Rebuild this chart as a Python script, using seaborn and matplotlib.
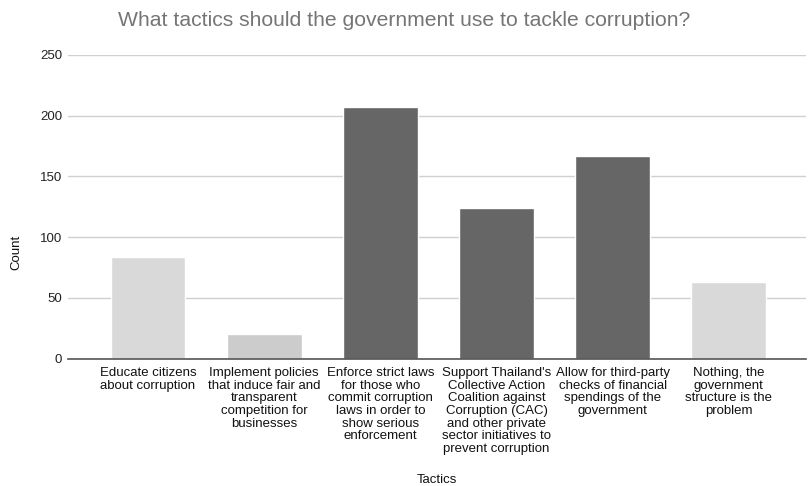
import matplotlib
matplotlib.use("Agg")
import matplotlib.pyplot as plt
import seaborn as sns
import pandas as pd

tactics = [
    "Educate citizens\nabout corruption",
    "Implement policies\nthat induce fair and\ntransparent\ncompetition for\nbusinesses",
    "Enforce strict laws\nfor those who\ncommit corruption\nlaws in order to\nshow serious\nenforcement",
    "Support Thailand's\nCollective Action\nCoalition against\nCorruption (CAC)\nand other private\nsector initiatives to\nprevent corruption",
    "Allow for third-party\nchecks of financial\nspendings of the\ngovernment",
    "Nothing, the\ngovernment\nstructure is the\nproblem",
]
counts = [84, 20, 207, 124, 167, 63]
bar_colors = ["#d9d9d9", "#cccccc", "#666666", "#666666", "#666666", "#d9d9d9"]
y_ticks = [0, 50, 100, 150, 200, 250]

sns.set_theme(style="white")
plt.rcParams["font.family"] = ["Liberation Sans", "DejaVu Sans"]

df = pd.DataFrame({"Tactics": tactics, "Count": counts})

fig = plt.figure(figsize=(8.08, 4.86), dpi=100)
ax = fig.add_axes([0.084, 0.262, 0.913, 0.625])

sns.barplot(data=df, x="Tactics", y="Count", hue="Tactics", palette=bar_colors,
            legend=False, width=0.645, saturation=1, ax=ax, zorder=3)

ax.set_ylim(0, 250)
ax.set_xlim(-0.69, 5.66)
ax.set_yticks(y_ticks)
ax.yaxis.grid(True, color="#d0d0d0", linewidth=1, zorder=0)
ax.xaxis.grid(False)
for s in ["top", "right", "left"]:
    ax.spines[s].set_visible(False)
ax.spines["bottom"].set_color("#555555")
ax.spines["bottom"].set_linewidth(1.2)
ax.spines["bottom"].set_zorder(4)

ax.tick_params(axis="y", length=0, pad=4, labelsize=9.5, labelcolor="#222222")
ax.tick_params(axis="x", length=0, pad=6, labelsize=9.5, labelcolor="#111111")
for lbl in ax.get_xticklabels():
    lbl.set_horizontalalignment("center")
    lbl.set_multialignment("center")
    lbl.set_linespacing(1.07)

ax.set_ylabel("Count", fontsize=9.5, color="#111111")
ax.yaxis.set_label_coords(-0.062, 0.35)
ax.set_xlabel("")
fig.text(0.541, 0.012, "Tactics", ha="center", va="center", fontsize=9.5, color="#111111")

fig.text(0.5, 0.958, "What tactics should the government use to tackle corruption?",
         ha="center", va="center", fontsize=15.2, color="#757575")

fig.savefig("out.png", dpi=100)
